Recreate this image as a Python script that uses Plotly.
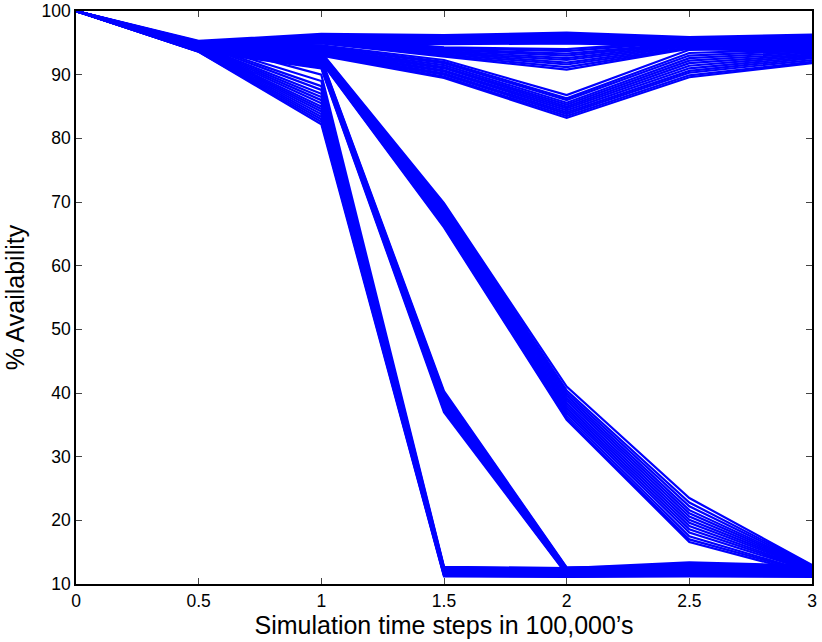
import plotly.graph_objects as go

x_steps = [0, 0.5, 1, 1.5, 2, 2.5, 3]
x_tick_vals = [0, 0.5, 1, 1.5, 2, 2.5, 3]
x_tick_text = ["0", "0.5", "1", "1.5", "2", "2.5", "3"]
y_tick_vals = [10, 20, 30, 40, 50, 60, 70, 80, 90, 100]

# high, stable runs
runs_high = [
    [100, 95.3, 96.4, 96.2, 96.6, 95.9, 96.3],
    [100, 95.1, 96.2, 96.0, 96.4, 95.7, 96.1],
    [100, 95.0, 96.0, 95.9, 96.2, 95.6, 95.9],
    [100, 94.9, 95.9, 95.7, 96.1, 95.4, 95.8],
    [100, 94.8, 95.8, 95.6, 95.9, 95.3, 95.6],
    [100, 94.7, 95.6, 95.5, 95.8, 95.1, 95.5],
    [100, 94.6, 95.5, 95.3, 95.6, 95.0, 95.3],
    [100, 94.5, 95.4, 95.2, 95.5, 94.9, 95.2],
    [100, 94.4, 95.3, 95.1, 95.3, 94.8, 95.0],
    [100, 94.3, 95.2, 95.0, 95.2, 94.7, 94.9],
    [100, 94.2, 95.1, 94.9, 95.0, 94.6, 94.7],
    [100, 94.1, 95.0, 94.8, 94.9, 94.5, 94.6],
]

# small dip at step 2
runs_small_dip = [
    [100, 95.2, 95.8, 94.3, 94.0, 95.3, 95.0],
    [100, 95.0, 95.7, 94.2, 93.7, 95.2, 94.8],
    [100, 94.9, 95.6, 94.0, 93.3, 95.0, 94.6],
    [100, 94.8, 95.5, 93.9, 93.0, 94.9, 94.5],
    [100, 94.6, 95.4, 93.7, 92.6, 94.8, 94.3],
    [100, 94.5, 95.3, 93.5, 92.3, 94.6, 94.1],
    [100, 94.3, 95.2, 93.4, 91.9, 94.5, 94.0],
    [100, 94.2, 95.1, 93.2, 91.6, 94.3, 93.8],
    [100, 94.1, 95.0, 93.0, 91.2, 94.2, 93.6],
    [100, 94.0, 94.9, 92.8, 90.8, 94.1, 93.5],
]

# larger dip at step 2
runs_big_dip = [
    [100, 95.0, 94.6, 92.3, 86.8, 93.9, 94.2],
    [100, 94.9, 94.4, 92.0, 86.3, 93.4, 94.0],
    [100, 94.8, 94.3, 91.8, 86.0, 93.0, 93.8],
    [100, 94.7, 94.1, 91.5, 85.6, 92.6, 93.6],
    [100, 94.6, 94.0, 91.2, 85.3, 92.2, 93.4],
    [100, 94.5, 93.8, 91.0, 85.0, 91.8, 93.2],
    [100, 94.4, 93.7, 90.7, 84.7, 91.4, 93.0],
    [100, 94.3, 93.5, 90.5, 84.4, 91.0, 92.8],
    [100, 94.2, 93.4, 90.2, 84.1, 90.6, 92.6],
    [100, 94.1, 93.2, 90.0, 83.8, 90.3, 92.3],
    [100, 94.0, 93.1, 89.7, 83.5, 89.9, 92.0],
    [100, 93.9, 93.0, 89.5, 83.2, 89.6, 91.8],
]

# slow decline
runs_slow_decline = [
    [100, 94.9, 93.5, 69.8, 41.0, 23.5, 13.0],
    [100, 94.8, 93.4, 69.5, 40.4, 22.8, 12.9],
    [100, 94.7, 93.3, 69.2, 40.0, 22.2, 12.8],
    [100, 94.6, 93.2, 68.9, 39.6, 21.6, 12.7],
    [100, 94.5, 93.1, 68.6, 39.2, 21.1, 12.6],
    [100, 94.4, 93.0, 68.3, 38.8, 20.6, 12.5],
    [100, 94.3, 92.9, 68.0, 38.4, 20.1, 12.4],
    [100, 94.2, 92.8, 67.7, 38.0, 19.6, 12.3],
    [100, 94.1, 92.7, 67.4, 37.6, 19.1, 12.2],
    [100, 94.0, 92.6, 67.1, 37.2, 18.6, 12.1],
    [100, 93.9, 92.5, 66.8, 36.8, 18.1, 12.0],
    [100, 93.8, 92.3, 66.5, 36.4, 17.5, 11.8],
    [100, 93.7, 92.1, 66.2, 36.0, 17.0, 11.7],
    [100, 93.6, 92.0, 66.0, 35.8, 16.6, 11.5],
]

# medium decline
runs_mid_decline = [
    [100, 95.0, 92.5, 40.3, 12.6, 12.8, 12.4],
    [100, 94.9, 92.4, 40.0, 12.5, 12.7, 12.3],
    [100, 94.7, 92.2, 39.7, 12.4, 12.6, 12.2],
    [100, 94.6, 92.1, 39.4, 12.3, 12.5, 12.1],
    [100, 94.5, 92.0, 39.1, 12.2, 12.4, 12.0],
    [100, 94.3, 91.8, 38.8, 12.1, 12.3, 11.9],
    [100, 94.2, 91.7, 38.5, 12.0, 12.2, 11.8],
    [100, 94.1, 91.6, 38.2, 11.9, 12.1, 11.7],
    [100, 94.0, 91.4, 37.9, 11.8, 12.0, 11.6],
    [100, 93.9, 91.3, 37.6, 11.7, 11.9, 11.5],
    [100, 93.8, 91.1, 37.3, 11.6, 11.8, 11.4],
    [100, 93.7, 91.0, 37.0, 11.5, 11.7, 11.3],
]

# fast drop
runs_fast_drop = [
    [100, 95.2, 90.0, 12.7, 12.5, 13.4, 12.9],
    [100, 95.0, 89.0, 12.6, 12.4, 13.2, 12.7],
    [100, 94.9, 88.2, 12.5, 12.3, 13.0, 12.6],
    [100, 94.8, 87.6, 12.4, 12.2, 12.9, 12.4],
    [100, 94.6, 87.0, 12.3, 12.1, 12.7, 12.3],
    [100, 94.5, 86.5, 12.2, 12.0, 12.6, 12.2],
    [100, 94.4, 86.0, 12.1, 11.9, 12.4, 12.0],
    [100, 94.3, 85.5, 12.0, 11.8, 12.3, 11.9],
    [100, 94.2, 85.0, 11.9, 11.7, 12.1, 11.8],
    [100, 94.1, 84.6, 11.8, 11.6, 12.0, 11.7],
    [100, 94.0, 84.2, 11.7, 11.5, 11.8, 11.6],
    [100, 93.9, 83.8, 11.6, 11.4, 11.7, 11.5],
    [100, 93.8, 83.4, 11.5, 11.3, 11.5, 11.4],
    [100, 93.7, 83.0, 11.4, 11.2, 11.4, 11.3],
    [100, 93.6, 82.6, 11.3, 11.2, 11.3, 11.2],
    [100, 93.6, 82.2, 11.2, 11.1, 11.2, 11.1],
]

all_runs = (runs_high + runs_small_dip + runs_big_dip +
            runs_slow_decline + runs_mid_decline + runs_fast_drop)

fig = go.Figure()
for run in all_runs:
    fig.add_trace(go.Scatter(
        x=x_steps, y=run, mode="lines",
        line=dict(color="rgb(0,0,255)", width=2.2),
        showlegend=False, hoverinfo="skip",
    ))

font_family = "Liberation Sans, Arial, Helvetica, sans-serif"

axis_common = dict(
    showline=True, linecolor="black", linewidth=1.5, mirror="ticks",
    ticks="inside", ticklen=6, tickwidth=1, tickcolor="#444444",
    showgrid=False, zeroline=False, automargin=False,
    tickfont=dict(family=font_family, size=17.5, color="black"),
)

fig.update_layout(
    width=822, height=642,
    margin=dict(l=76, r=10, t=11, b=58),
    paper_bgcolor="white", plot_bgcolor="white",
    font=dict(family=font_family, color="black"),
    xaxis=dict(
        range=[0, 3], tickmode="array", tickvals=x_tick_vals, ticktext=x_tick_text,
        title=dict(text="Simulation time steps in 100,000\u2019s",
                   font=dict(family=font_family, size=25), standoff=2),
        **axis_common,
    ),
    yaxis=dict(
        range=[10, 100], tickmode="array", tickvals=y_tick_vals,
        title=dict(text="% Availability",
                   font=dict(family=font_family, size=25), standoff=10),
        **axis_common,
    ),
)

fig.write_html("out.html",
               config={"displayModeBar": False},
               post_script="document.body.style.margin='0';document.body.style.overflow='hidden';")
